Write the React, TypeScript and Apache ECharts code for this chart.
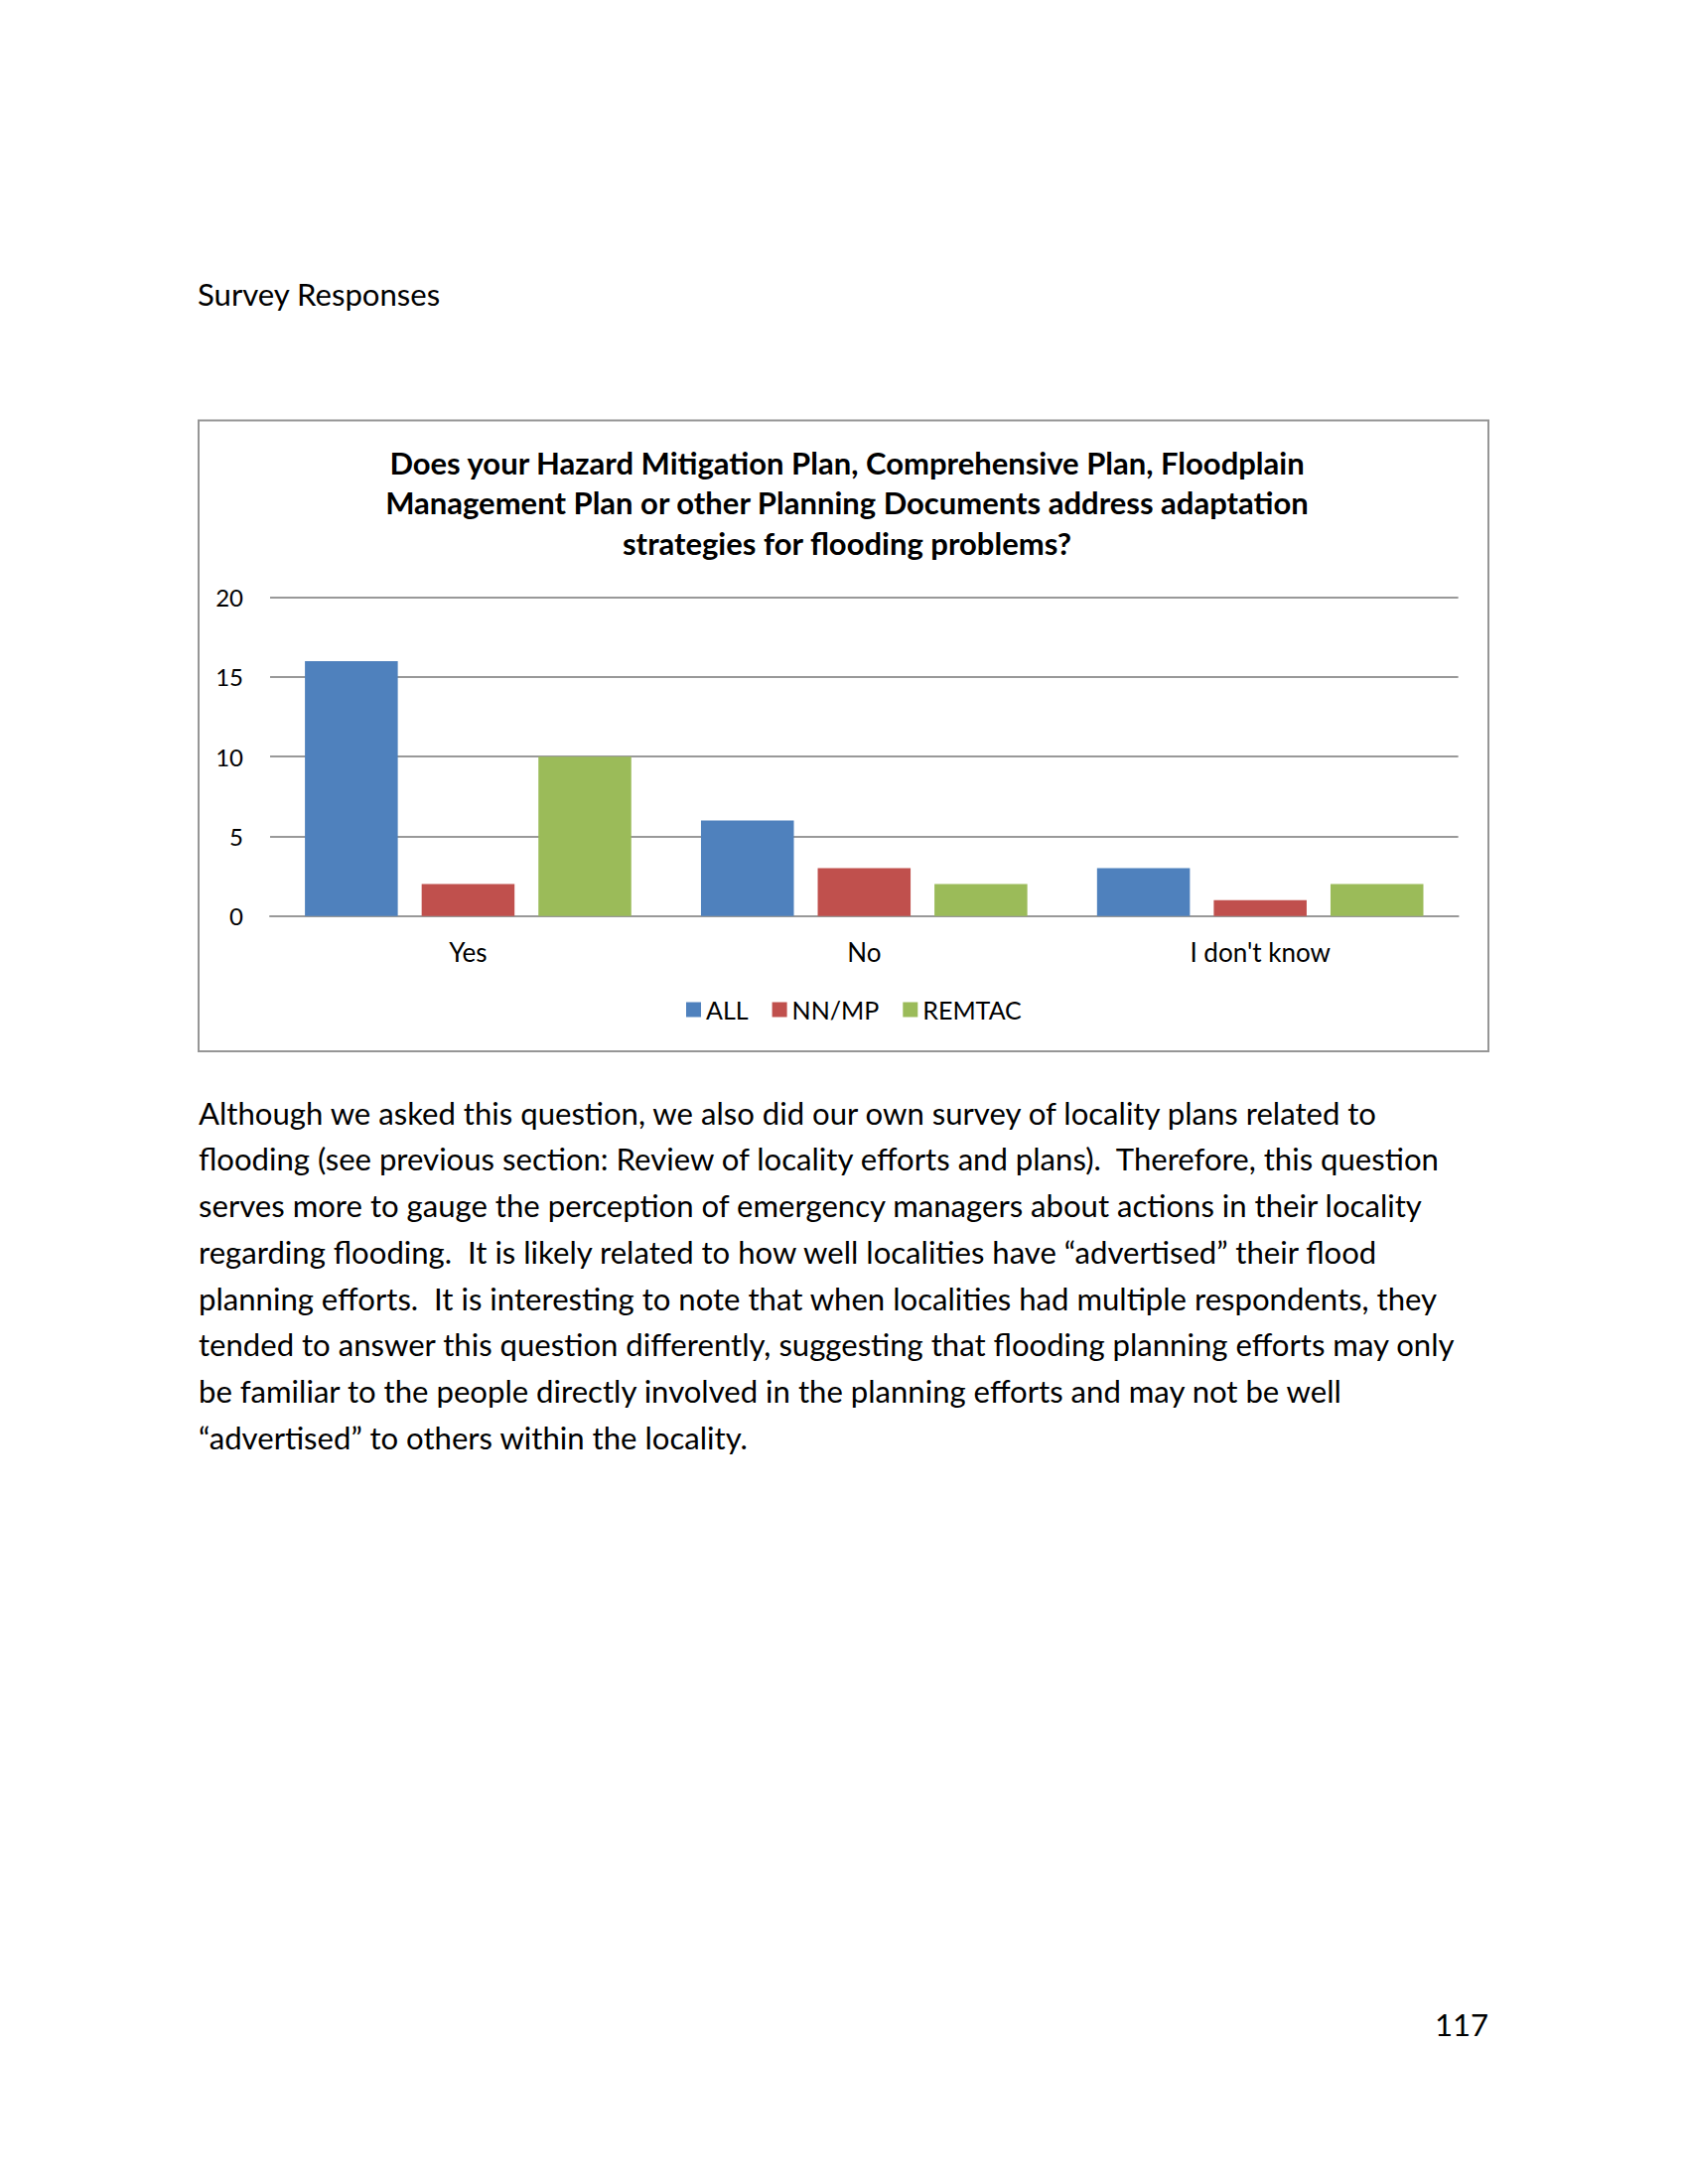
import React, { useEffect, useRef } from "react";
import * as echarts from "echarts";

const categories = ["Yes", "No", "I don't know"];
const seriesNames = ["ALL", "NN/MP", "REMTAC"];
const allValues = [16, 6, 3];
const nnmpValues = [2, 3, 1];
const remtacValues = [10, 2, 2];
const yTicks = [0, 5, 10, 15, 20];

const heading = "Survey Responses";
const chartTitleLines = [
  "Does your Hazard Mitigation Plan, Comprehensive Plan, Floodplain",
  "Management Plan or other Planning Documents address adaptation",
  "strategies for flooding problems?",
];
const paragraphLines = [
  "Although we asked this question, we also did our own survey of locality plans related to",
  "flooding (see previous section: Review of locality efforts and plans).  Therefore, this question",
  "serves more to gauge the perception of emergency managers about actions in their locality",
  "regarding flooding.  It is likely related to how well localities have \u201cadvertised\u201d their flood",
  "planning efforts.  It is interesting to note that when localities had multiple respondents, they",
  "tended to answer this question differently, suggesting that flooding planning efforts may only",
  "be familiar to the people directly involved in the planning efforts and may not be well",
  "\u201cadvertised\u201d to others within the locality.",
];
const pageNumber = "117";

const colors = ["#4F81BD", "#C0504D", "#9BBB59"];
const FONT = "Lato, 'Open Sans', 'Noto Sans', sans-serif";
const BODY = 31.1;

export default function App() {
  const ref = useRef<HTMLDivElement>(null);
  useEffect(() => {
    if (!ref.current) return;
    const chart = echarts.init(ref.current, undefined, { renderer: "svg" });
    const seriesData = [allValues, nnmpValues, remtacValues];
    const graphics: any[] = [
      {
        type: "rect",
        shape: { x: 200, y: 423.6, width: 1299, height: 635.5 },
        style: { fill: "none", stroke: "#969696", lineWidth: 2 },
        z: 0,
      },
      {
        type: "text",
        x: 199,
        y: 296,
        style: {
          text: heading,
          font: `${BODY}px ${FONT}`,
          fill: "#000",
          textVerticalAlign: "middle",
          textAlign: "left",
        },
      },
      {
        type: "text",
        x: 853,
        y: 445.4,
        style: {
          text: chartTitleLines.join("\n"),
          fontFamily: FONT,
          fontSize: 31,
          fontWeight: "bold",
          lineHeight: 40.6,
          fill: "#000",
          textAlign: "center",
          textVerticalAlign: "top",
        },
      },
      {
        type: "text",
        x: 1499,
        y: 2039,
        style: {
          text: pageNumber,
          font: `${BODY}px ${FONT}`,
          fill: "#000",
          textAlign: "right",
          textVerticalAlign: "middle",
        },
      },
    ];
    paragraphLines.forEach((line, i) => {
      graphics.push({
        type: "text",
        x: 200,
        y: 1120.7 + i * 46.7,
        style: {
          text: line,
          font: `${BODY}px ${FONT}`,
          fill: "#000",
          textAlign: "left",
          textVerticalAlign: "middle",
        },
      });
    });

    chart.setOption({
      animation: false,
      color: colors,
      textStyle: { fontFamily: FONT },
      grid: { left: 272, right: 231.4, top: 601.7, bottom: 2200 - 922.7, containLabel: false },
      legend: {
        data: seriesNames,
        left: 686,
        top: 999.5,
        itemWidth: 15,
        itemHeight: 15,
        itemGap: 24,
        icon: "rect",
        textStyle: { fontSize: 25, color: "#000", fontFamily: FONT },
      },
      xAxis: {
        type: "category",
        data: categories,
        axisLine: { show: true, lineStyle: { color: "#999", width: 2 } },
        axisTick: { show: false },
        axisLabel: { fontSize: 26, color: "#000", margin: 23, fontFamily: FONT },
      },
      yAxis: {
        type: "value",
        min: yTicks[0],
        max: yTicks[yTicks.length - 1],
        interval: 5,
        axisLine: { show: false },
        axisTick: { show: false },
        splitLine: { show: true, lineStyle: { color: "#999", width: 2 } },
        axisLabel: { fontSize: 24, color: "#000", margin: 27, fontFamily: FONT },
      },
      series: seriesNames.map((name, i) => ({
        name,
        type: "bar",
        data: seriesData[i],
        barGap: "25.7%",
        barCategoryGap: "17.6%",
        itemStyle: { color: colors[i] },
      })),
      graphic: graphics,
    });
    return () => chart.dispose();
  }, []);
  return (
    <div
      ref={ref}
      style={{ position: "absolute", left: 0, top: 0, width: 1700, height: 2200, background: "#fff" }}
    />
  );
}
